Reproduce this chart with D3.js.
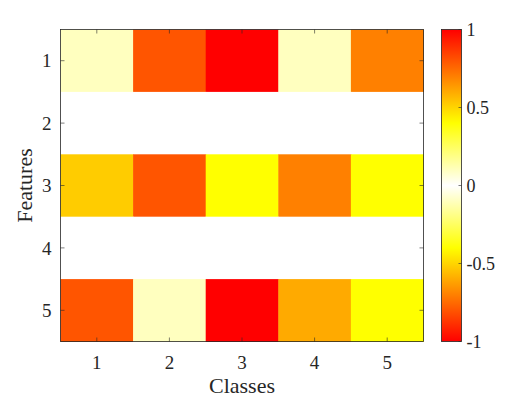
<!DOCTYPE html>
<html>
<head>
<meta charset="utf-8">
<script src="https://cdn.jsdelivr.net/npm/d3@7"></script>
<style>
  body { margin: 0; background: #fff; }
</style>
</head>
<body>
<div id="chart"></div>
<script>
// data
var classes = [1, 2, 3, 4, 5];
var features = [1, 2, 3, 4, 5];
var values = [
  [0.1, 0.8, 1.0, 0.1, 0.7],
  [0, 0, 0, 0, 0],
  [0.52, 0.8, 0.4, 0.7, 0.4],
  [0, 0, 0, 0, 0],
  [0.8, 0.1, 1.0, 0.6, 0.4]
];
var cbTicks = [-1, -0.5, 0, 0.5, 1];

var W = 532, H = 399;
var margin = {top: 29.5, left: 60.5, right: 108.5, bottom: 57.5};
var width = W - margin.left - margin.right,
    height = H - margin.top - margin.bottom;

var svg = d3.select("#chart").append("svg")
    .attr("width", W)
    .attr("height", H)
    .attr("font-family", "Liberation Serif")
    .attr("fill", "#262626");

var g = svg.append("g")
    .attr("transform", "translate(" + margin.left + "," + margin.top + ")");

var x = d3.scaleBand().domain(classes).range([0, width]);
var y = d3.scaleBand().domain(features).range([0, height]);

// colour: white -> yellow -> red, symmetric around 0
var col = d3.scaleLinear()
    .domain([-1, -0.4, 0, 0.4, 1])
    .range(["#ff0000", "#ffff00", "#ffffff", "#ffff00", "#ff0000"])
    .clamp(true);

var cells = [];
values.forEach(function(row, i) {
  row.forEach(function(v, j) {
    cells.push({f: features[i], c: classes[j], v: v});
  });
});

g.selectAll("rect.cell")
    .data(cells)
    .enter().append("rect")
    .attr("class", "cell")
    .attr("x", function(d) { return x(d.c); })
    .attr("y", function(d) { return y(d.f); })
    .attr("width", x.bandwidth() + 0.5)
    .attr("height", y.bandwidth() + 0.5)
    .attr("fill", function(d) { return col(d.v); });

// box
g.append("rect")
    .attr("width", width)
    .attr("height", height)
    .attr("fill", "none")
    .attr("stroke", "#262626")
    .attr("stroke-width", 0.8);

var tl = 4;
// x ticks
classes.forEach(function(c) {
  var cx = x(c) + x.bandwidth() / 2;
  g.append("line").attr("x1", cx).attr("x2", cx).attr("y1", height).attr("y2", height - tl)
    .attr("stroke", "#262626").attr("stroke-width", 0.6);
  g.append("line").attr("x1", cx).attr("x2", cx).attr("y1", 0).attr("y2", tl)
    .attr("stroke", "#262626").attr("stroke-width", 0.6);
  g.append("text").attr("x", cx).attr("y", height + 27)
    .attr("text-anchor", "middle").attr("font-size", 19).text(c);
});
// y ticks
features.forEach(function(f) {
  var cy = y(f) + y.bandwidth() / 2;
  g.append("line").attr("x1", 0).attr("x2", tl).attr("y1", cy).attr("y2", cy)
    .attr("stroke", "#262626").attr("stroke-width", 0.6);
  g.append("line").attr("x1", width).attr("x2", width - tl).attr("y1", cy).attr("y2", cy)
    .attr("stroke", "#262626").attr("stroke-width", 0.6);
  g.append("text").attr("x", -9).attr("y", cy).attr("dy", "0.35em")
    .attr("text-anchor", "end").attr("font-size", 19).text(f);
});

// axis labels
g.append("text")
    .attr("x", width / 2).attr("y", height + 51)
    .attr("text-anchor", "middle").attr("font-size", 22).text("Classes");
g.append("text")
    .attr("transform", "rotate(-90)")
    .attr("x", -height / 2).attr("y", -29)
    .attr("text-anchor", "middle").attr("font-size", 22).text("Features");

// colorbar
var cbX = 441.5, cbW = 20;
var cy = d3.scaleLinear().domain([-1, 1]).range([margin.top + height, margin.top]);

var defs = svg.append("defs");
var grad = defs.append("linearGradient").attr("id", "cbgrad")
    .attr("x1", 0).attr("y1", 1).attr("x2", 0).attr("y2", 0);
d3.range(0, 21).forEach(function(i) {
  var v = -1 + i * 0.1;
  grad.append("stop").attr("offset", (i / 20)).attr("stop-color", col(v));
});

svg.append("rect")
    .attr("x", cbX).attr("y", cy(1))
    .attr("width", cbW).attr("height", cy(-1) - cy(1))
    .attr("fill", "url(#cbgrad)")
    .attr("stroke", "#262626").attr("stroke-width", 0.8);

cbTicks.forEach(function(t) {
  svg.append("line").attr("x1", cbX + cbW).attr("x2", cbX + cbW - 3)
    .attr("y1", cy(t)).attr("y2", cy(t))
    .attr("stroke", "#262626").attr("stroke-width", 0.6);
  svg.append("text").attr("x", cbX + cbW + 5).attr("y", cy(t)).attr("dy", "0.35em")
    .attr("font-size", 18).text(t);
});
</script>
</body>
</html>
